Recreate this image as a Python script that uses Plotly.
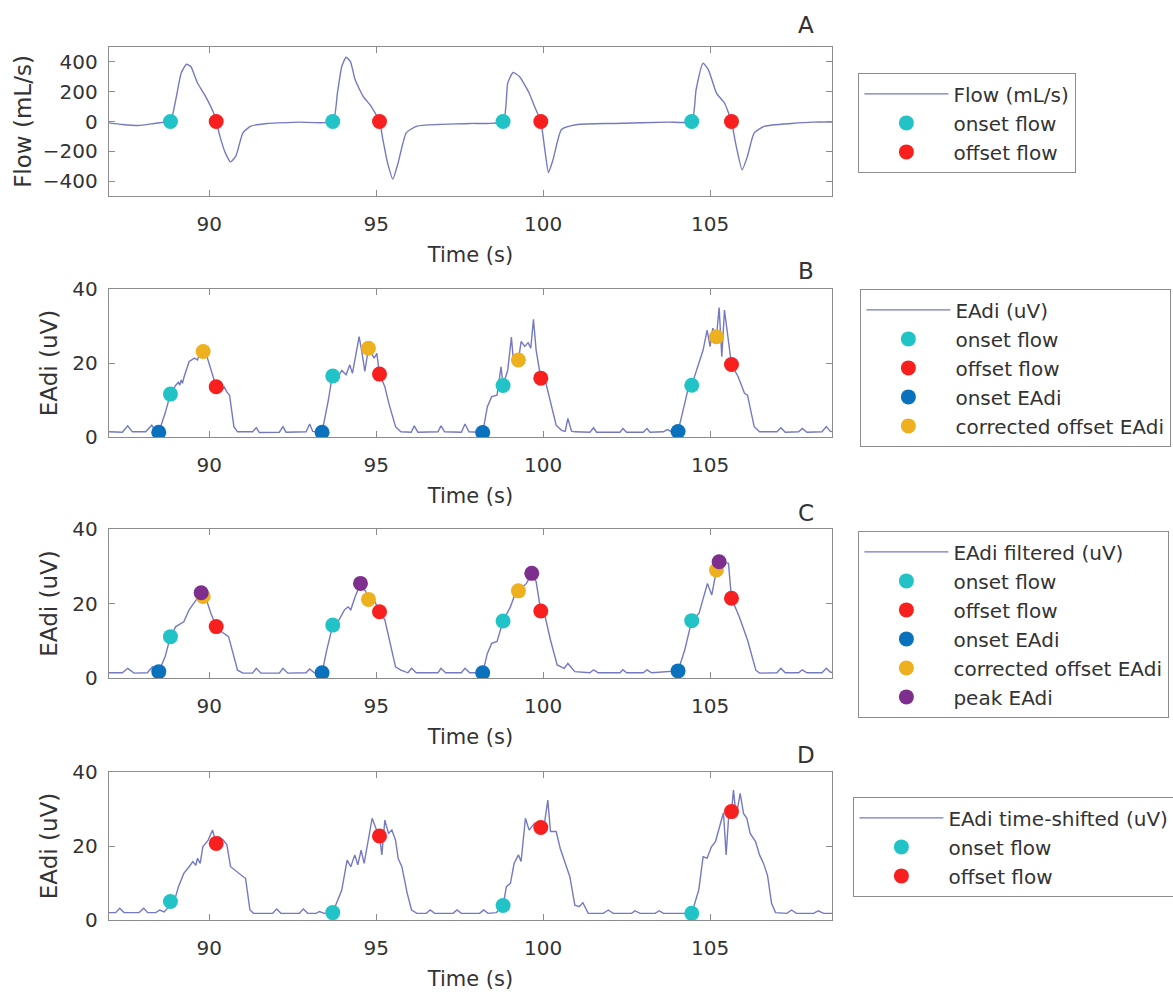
import plotly.graph_objects as go

# ---------------- data ----------------
time_ticks = [90, 95, 100, 105]
flow_ticks = [-400, -200, 0, 200, 400]
eadi_ticks = [0, 20, 40]

flow_t = [87.0, 87.4, 87.88, 88.36, 88.68, 88.84, 89.0, 89.16, 89.32, 89.45, 89.65, 89.89, 90.13, 90.21,
          90.32, 90.48, 90.64, 90.8, 91.01, 91.25, 91.73, 92.69, 93.7, 93.84, 93.97, 94.1, 94.23, 94.37,
          94.61, 94.85, 95.1, 95.2, 95.34, 95.5, 95.66, 95.9, 96.22, 96.86, 97.82, 98.8, 98.94, 99.1,
          99.29, 99.58, 99.74, 99.93, 100.05, 100.16, 100.3, 100.55, 101.03, 102.15, 103.75, 104.45,
          104.58, 104.79, 104.95, 105.19, 105.43, 105.64, 105.76, 105.96, 106.12, 106.32, 106.64,
          107.44, 108.08, 108.7]
flow_v = [-9, -20, -27, -13, -4, 0, 147, 324, 384, 369, 258, 169, 58, 0,
          -98, -209, -271, -231, -76, -31, -13, -4, 0, 191, 369, 431, 402, 280,
          169, 102, 0, -120, -276, -387, -276, -76, -31, -20, -13, 0, 258, 329,
          302, 191, 102, 0, -187, -342, -253, -53, -20, -13, -4, 0,
          213, 391, 347, 191, 124, 0, -142, -324, -231, -76, -31,
          -13, -4, -4]

eadi_pts = [
    (87.0, 1.4), (87.4, 1.3), (87.56, 3.0), (87.7, 1.4), (88.1, 1.4), (88.28, 3.2), (88.4, 1.5), (88.49, 1.3),
    (88.68, 6.4), (88.84, 11.6), (89.0, 14.0), (89.08, 14.8), (89.12, 14.0), (89.16, 15.4), (89.2, 14.5),
    (89.24, 16.0), (89.4, 20.4), (89.56, 21.3), (89.65, 20.8), (89.77, 24.0), (89.89, 23.0), (90.05, 18.0),
    (90.21, 13.6), (90.37, 12.7), (90.45, 13.5), (90.53, 12.2), (90.61, 11.3), (90.74, 2.8), (90.85, 1.4),
    (91.3, 1.4), (91.41, 2.5), (91.5, 1.2), (92.1, 1.3), (92.21, 2.8), (92.3, 1.3), (92.9, 1.4), (93.01, 3.5),
    (93.1, 1.5), (93.38, 1.3),
    (93.57, 10.0), (93.68, 16.3), (93.81, 15.4), (93.97, 18.0), (94.1, 16.8), (94.21, 19.5), (94.29, 17.2),
    (94.42, 24.4), (94.49, 27.1), (94.58, 22.6), (94.66, 17.7), (94.77, 24.0), (94.94, 21.3), (95.02, 22.6),
    (95.1, 17.0), (95.26, 13.6), (95.38, 9.1), (95.58, 2.8), (95.74, 1.4),
    (96.05, 1.3), (96.14, 3.0), (96.25, 1.3), (96.85, 1.4), (96.94, 3.0), (97.05, 1.4), (97.55, 1.3),
    (97.66, 3.5), (97.78, 1.4), (98.19, 1.2),
    (98.33, 8.2), (98.46, 10.9), (98.62, 11.3), (98.74, 19.0), (98.8, 13.9), (98.94, 18.1), (99.05, 27.0),
    (99.12, 19.5), (99.26, 20.8), (99.34, 25.8), (99.45, 24.5), (99.55, 25.5), (99.63, 24.0), (99.71, 31.8),
    (99.79, 23.5), (99.93, 15.9), (100.06, 15.4), (100.22, 9.5), (100.39, 3.2), (100.55, 1.8), (100.66, 1.5),
    (100.74, 5.0), (100.85, 1.6), (100.95, 1.4),
    (101.4, 1.3), (101.51, 2.5), (101.6, 1.3), (102.3, 1.3), (102.39, 2.3), (102.5, 1.3), (103.0, 1.3),
    (103.11, 2.3), (103.2, 1.3), (103.6, 1.4), (103.72, 2.0), (103.85, 1.4), (104.04, 1.5),
    (104.24, 9.1), (104.38, 14.5), (104.45, 14.0), (104.63, 19.0), (104.79, 23.5), (104.91, 28.9),
    (105.0, 24.4), (105.08, 29.4), (105.19, 27.1), (105.27, 35.0), (105.35, 21.7), (105.43, 34.3),
    (105.55, 26.2), (105.64, 19.6), (105.84, 16.3), (106.03, 11.8), (106.12, 11.3), (106.32, 2.8), (106.48, 1.4),
    (107.0, 1.4), (107.12, 2.5), (107.25, 1.3), (107.65, 1.4), (107.76, 2.3), (107.9, 1.3), (108.35, 1.4),
    (108.48, 2.8), (108.6, 1.5), (108.7, 1.4)]

filt_pts = [
    (87.0, 1.4), (87.4, 1.4), (87.56, 2.6), (87.75, 1.3), (88.15, 1.4), (88.3, 3.0), (88.42, 1.6), (88.49, 1.7),
    (88.68, 5.7), (88.84, 11.1), (89.0, 13.8), (89.24, 15.1), (89.4, 18.3), (89.56, 20.5), (89.76, 22.9),
    (89.89, 21.8), (90.05, 17.4), (90.21, 13.8), (90.37, 12.4), (90.58, 11.1), (90.69, 7.5), (90.85, 2.1),
    (91.01, 1.3),
    (91.3, 1.3), (91.41, 2.6), (91.55, 1.3), (92.1, 1.3), (92.21, 2.6), (92.35, 1.3), (92.9, 1.4), (93.01, 2.4),
    (93.15, 1.4), (93.38, 1.4),
    (93.52, 7.5), (93.7, 14.2), (93.89, 15.6), (94.05, 18.3), (94.16, 19.1), (94.24, 18.3), (94.37, 21.8),
    (94.53, 25.4), (94.69, 23.2), (94.77, 21.1), (94.94, 20.9), (95.1, 17.8), (95.26, 15.6), (95.42, 9.3),
    (95.58, 3.0), (95.74, 2.1),
    (95.95, 1.4), (96.06, 2.6), (96.2, 1.4), (96.85, 1.4), (96.94, 2.6), (97.08, 1.4), (97.55, 1.4),
    (97.66, 2.6), (97.8, 1.4), (98.19, 1.4),
    (98.33, 6.6), (98.46, 9.3), (98.62, 9.8), (98.8, 15.3), (99.02, 19.1), (99.18, 23.0), (99.26, 23.4),
    (99.5, 25.4), (99.66, 28.1), (99.79, 25.9), (99.93, 18.0), (100.06, 16.5), (100.22, 10.2), (100.42, 3.5),
    (100.63, 2.6), (100.74, 3.9), (100.95, 1.7),
    (101.4, 1.4), (101.51, 2.2), (101.65, 1.4), (102.3, 1.4), (102.39, 2.2), (102.5, 1.4), (103.0, 1.4),
    (103.11, 2.2), (103.25, 1.4), (104.04, 1.9),
    (104.24, 7.5), (104.45, 15.4), (104.67, 17.4), (104.92, 25.4), (105.05, 22.3), (105.19, 29.0),
    (105.27, 31.2), (105.55, 30.8), (105.64, 21.4), (105.87, 16.5), (106.12, 10.2), (106.37, 2.1), (106.48, 1.3),
    (107.0, 1.4), (107.12, 2.6), (107.25, 1.4), (107.65, 1.4), (107.76, 2.2), (107.9, 1.4), (108.35, 1.4),
    (108.48, 2.6), (108.6, 1.6), (108.7, 1.4)]

shift_pts = [
    (87.0, 2.0), (87.2, 2.0), (87.32, 3.2), (87.45, 2.0), (87.9, 2.0), (88.04, 3.2), (88.16, 2.0), (88.4, 2.0),
    (88.52, 2.7), (88.65, 2.2), (88.84, 4.0),
    (89.0, 6.5), (89.08, 9.0), (89.24, 12.6), (89.4, 14.4), (89.51, 15.8), (89.6, 14.8), (89.65, 16.7),
    (89.73, 15.3), (89.81, 19.8), (89.97, 21.6), (90.1, 24.3), (90.21, 20.7), (90.29, 22.5), (90.42, 21.6),
    (90.53, 20.3), (90.64, 14.4), (90.77, 13.5), (90.9, 12.6), (91.01, 11.7), (91.09, 11.2), (91.22, 2.7),
    (91.33, 1.8),
    (91.9, 1.8), (92.02, 3.0), (92.15, 1.8), (92.7, 1.8), (92.82, 3.0), (92.95, 1.8), (93.2, 1.8), (93.3, 2.3),
    (93.45, 1.8), (93.7, 2.0),
    (93.97, 8.1), (94.13, 16.2), (94.24, 14.4), (94.36, 17.6), (94.45, 14.9), (94.55, 18.9), (94.64, 15.3),
    (94.77, 21.6), (94.88, 27.5), (95.01, 24.3), (95.1, 22.7), (95.17, 17.6), (95.26, 27.0), (95.37, 23.4),
    (95.47, 24.3), (95.58, 21.6), (95.66, 16.6), (95.77, 14.4), (95.93, 7.2), (96.06, 2.7), (96.22, 1.8),
    (96.5, 1.8), (96.62, 2.7), (96.75, 1.8), (97.3, 1.8), (97.42, 2.7), (97.55, 1.8), (98.1, 1.8), (98.22, 2.7),
    (98.35, 1.8), (98.6, 2.0), (98.8, 3.9),
    (98.9, 9.0), (99.02, 9.9), (99.13, 15.3), (99.26, 17.6), (99.34, 15.8), (99.47, 27.5), (99.58, 24.3),
    (99.74, 26.1), (99.93, 25.0), (100.03, 25.5), (100.14, 32.4), (100.22, 23.9), (100.39, 23.9), (100.51, 19.4),
    (100.67, 15.3), (100.8, 11.7), (100.95, 4.0), (101.08, 3.6), (101.19, 4.7), (101.35, 1.8),
    (101.8, 1.8), (101.95, 2.7), (102.1, 1.8), (102.65, 1.8), (102.75, 2.5), (102.9, 1.8), (103.35, 1.8),
    (103.48, 2.5), (103.6, 1.8), (104.45, 1.8),
    (104.66, 8.1), (104.79, 17.1), (104.91, 16.7), (105.04, 19.8), (105.16, 21.2), (105.29, 25.2), (105.4, 29.0),
    (105.48, 17.6), (105.57, 30.0), (105.64, 29.3), (105.7, 35.1), (105.78, 28.0), (105.9, 34.2), (106.0, 28.8),
    (106.1, 27.5), (106.2, 23.4), (106.36, 21.2), (106.48, 17.6), (106.6, 15.3), (106.72, 12.0), (106.84, 4.5),
    (106.96, 2.0),
    (107.3, 1.8), (107.44, 2.7), (107.58, 1.8), (108.1, 1.8), (108.24, 2.5), (108.4, 1.8), (108.7, 1.8)]

onset_flow_t = [88.84, 93.7, 98.8, 104.45]
offset_flow_t = [90.21, 95.1, 99.93, 105.64]
onset_eadi_t = [88.49, 93.38, 98.19, 104.04]
corr_offset_t = [89.82, 94.77, 99.26, 105.19]
peak_t = [89.76, 94.53, 99.66, 105.27]

a_onset_v = [0, 0, 0, 0]
a_offset_v = [0, 0, 0, 0]
b_onset_v = [11.6, 16.5, 13.9, 14.0]
b_offset_v = [13.6, 17.0, 15.9, 19.6]
b_onset_eadi_v = [1.3, 1.3, 1.2, 1.5]
b_corr_v = [23.1, 24.0, 20.8, 27.1]
c_onset_v = [11.1, 14.2, 15.3, 15.4]
c_offset_v = [13.8, 17.8, 18.0, 21.4]
c_onset_eadi_v = [1.7, 1.4, 1.4, 1.9]
c_corr_v = [21.9, 21.1, 23.4, 29.0]
c_peak_v = [22.9, 25.4, 28.1, 31.2]
d_onset_v = [5.0, 2.0, 3.9, 1.8]
d_offset_v = [20.7, 22.7, 25.0, 29.3]

# ---------------- style ----------------
W, H = 1173, 994
FONT = "DejaVu Sans"
TXT = "#333333"
AXC = "#8c8c8c"
LINE_C = "#7479c2"
C_CYAN = "#22c3c6"
C_RED = "#f81f1f"
C_BLUE = "#0a72bd"
C_ORANGE = "#edb120"
C_PURPLE = "#7e2f8e"
MS = 15

def fy(p):
    return 1 - p / H

panel_px = [(47, 196), (289, 437), (529, 678), (772, 920)]
x_dom = [109 / W, 832 / W]

fig = go.Figure()

def line(t, v, name, k, leg):
    fig.add_trace(go.Scatter(x=t, y=v, mode="lines", name=name, legend=leg,
                             line=dict(color=LINE_C, width=1.4, shape="spline" if k == 1 else "linear",
                                       smoothing=0.5),
                             xaxis=f"x{k}" if k > 1 else "x", yaxis=f"y{k}" if k > 1 else "y"))

def pts(t, v, name, color, k, leg):
    fig.add_trace(go.Scatter(x=t, y=v, mode="markers", name=name, legend=leg,
                             marker=dict(color=color, size=MS, line=dict(width=0)),
                             xaxis=f"x{k}" if k > 1 else "x", yaxis=f"y{k}" if k > 1 else "y"))

# Panel A
line(flow_t, flow_v, "Flow (mL/s)", 1, "legend")
pts(onset_flow_t, a_onset_v, "onset flow", C_CYAN, 1, "legend")
pts(offset_flow_t, a_offset_v, "offset flow", C_RED, 1, "legend")

# Panel B
line([p[0] for p in eadi_pts], [p[1] for p in eadi_pts], "EAdi (uV)", 2, "legend2")
pts(onset_flow_t, b_onset_v, "onset flow", C_CYAN, 2, "legend2")
pts(offset_flow_t, b_offset_v, "offset flow", C_RED, 2, "legend2")
pts(onset_eadi_t, b_onset_eadi_v, "onset EAdi", C_BLUE, 2, "legend2")
pts(corr_offset_t, b_corr_v, "corrected offset EAdi", C_ORANGE, 2, "legend2")

# Panel C
line([p[0] for p in filt_pts], [p[1] for p in filt_pts], "EAdi filtered (uV)", 3, "legend3")
pts(onset_flow_t, c_onset_v, "onset flow", C_CYAN, 3, "legend3")
pts(offset_flow_t, c_offset_v, "offset flow", C_RED, 3, "legend3")
pts(onset_eadi_t, c_onset_eadi_v, "onset EAdi", C_BLUE, 3, "legend3")
pts(corr_offset_t, c_corr_v, "corrected offset EAdi", C_ORANGE, 3, "legend3")
pts(peak_t, c_peak_v, "peak EAdi", C_PURPLE, 3, "legend3")

# Panel D
line([p[0] for p in shift_pts], [p[1] for p in shift_pts], "EAdi time-shifted (uV)", 4, "legend4")
pts(onset_flow_t, d_onset_v, "onset flow", C_CYAN, 4, "legend4")
pts(offset_flow_t, d_offset_v, "offset flow", C_RED, 4, "legend4")

layout = dict(width=W, height=H, margin=dict(l=0, r=0, t=0, b=0, autoexpand=False),
              paper_bgcolor="white", plot_bgcolor="white",
              font=dict(family=FONT, size=20, color=TXT), showlegend=True)

y_titles = ["Flow (mL/s)", "EAdi (uV)", "EAdi (uV)", "EAdi (uV)"]
y_ranges = [[-500, 500], [0, 40], [0, 40], [0, 40]]
y_tickv = [flow_ticks, eadi_ticks, eadi_ticks, eadi_ticks]
y_stand = [4, 8, 8, 8]

for i in range(4):
    k = i + 1
    xn = "xaxis" if k == 1 else f"xaxis{k}"
    yn = "yaxis" if k == 1 else f"yaxis{k}"
    top, bot = panel_px[i]
    layout[xn] = dict(domain=x_dom, range=[87, 108.65], anchor="y" if k == 1 else f"y{k}",
                      tickvals=time_ticks, ticks="inside", ticklen=6, tickcolor=AXC, tickwidth=1.2,
                      showline=True, linecolor=AXC, linewidth=1.4, mirror="ticks",
                      showgrid=False, zeroline=False, ticklabelstandoff=10,
                      tickfont=dict(family=FONT, size=20, color=TXT),
                      title=dict(text="Time (s)", standoff=12, font=dict(family=FONT, size=21, color=TXT)))
    layout[yn] = dict(domain=[fy(bot), fy(top)], range=y_ranges[i], anchor="x" if k == 1 else f"x{k}",
                      tickvals=y_tickv[i], ticks="inside", ticklen=6, tickcolor=AXC, tickwidth=1.2,
                      showline=True, linecolor=AXC, linewidth=1.4, mirror="ticks",
                      showgrid=False, zeroline=False, ticklabelstandoff=6,
                      tickfont=dict(family=FONT, size=20, color=TXT),
                      title=dict(text=y_titles[i], standoff=y_stand[i],
                                 font=dict(family=FONT, size=23, color=TXT)))

leg_common = dict(bgcolor="white", bordercolor=AXC, borderwidth=1.4, xanchor="left", yanchor="top",
                  itemwidth=84, font=dict(family=FONT, size=20, color=TXT))
layout["legend"] = dict(x=858 / W, y=fy(73), **leg_common)
layout["legend2"] = dict(x=860 / W, y=fy(289), **leg_common)
layout["legend3"] = dict(x=858 / W, y=fy(531), **leg_common)
layout["legend4"] = dict(x=853 / W, y=fy(797), **leg_common)

letters = [("A", 25), ("B", 271), ("C", 513), ("D", 755)]
layout["annotations"] = [dict(text=s, x=806 / W, y=fy(yy), xref="paper", yref="paper", showarrow=False,
                              xanchor="center", yanchor="middle",
                              font=dict(family=FONT, size=23, color=TXT)) for s, yy in letters]

fig.update_layout(**layout)
fig.write_html("out.html", config={"displayModeBar": False},
               post_script="document.body.style.margin='0';document.body.style.overflow='hidden';")
